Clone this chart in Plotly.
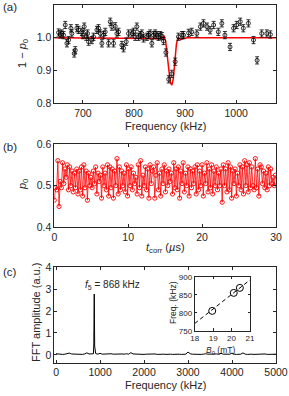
import plotly.graph_objects as go
import numpy as np

# ---------------- Panel (a) data ----------------
fa = [652.4, 655.6, 658.9, 662.1, 665.4, 668.7, 671.9, 676.5, 678.4, 683.0, 685.0, 688.2, 691.5,
      698.0, 700.0, 702.6, 706.5, 709.1, 711.1, 717.6, 720.8, 727.4, 730.6, 733.9, 737.2, 740.4,
      743.7, 750.2, 753.5, 756.7, 760.0, 763.2, 766.5, 769.8, 776.3, 779.6, 784.8, 789.3, 795.9,
      799.1, 802.4, 805.6, 808.9, 812.2, 815.4, 818.7, 825.2, 828.5, 831.7, 835.0, 838.3, 841.5,
      844.8, 848.0, 851.3, 854.6, 857.8, 862.5, 868.0, 874.0, 880.6, 887.0, 894.0, 897.0, 907.0,
      913.0, 923.0, 930.0, 936.0, 943.0, 949.0, 956.0, 965.0, 972.0, 978.0, 988.0, 995.0, 1001.0,
      1008.0, 1014.0, 1024.0, 1034.0, 1041.0, 1050.0, 1060.0, 1067.0]
pa = [1.016, 1.010, 1.013, 1.008, 1.039, 0.983, 0.993, 1.029, 1.013, 0.952, 0.962, 1.029, 1.024,
      1.018, 1.008, 1.034, 1.003, 1.013, 0.988, 0.993, 1.003, 1.024, 1.029, 1.013, 0.983, 1.008,
      1.018, 0.983, 1.049, 1.034, 0.983, 1.035, 1.013, 1.018, 0.978, 0.968, 0.988, 1.013, 1.013,
      1.018, 1.003, 1.034, 1.003, 1.008, 1.013, 0.998, 1.003, 1.008, 1.013, 0.983, 1.008, 1.013,
      1.008, 1.003, 1.008, 1.005, 0.990, 0.955, 0.873, 0.890, 0.927, 1.003, 1.008, 1.008, 1.015,
      1.018, 1.013, 1.034, 1.044, 1.034, 1.023, 1.039, 1.018, 1.044, 1.008, 0.972, 1.029, 1.039,
      1.049, 1.029, 1.044, 0.993, 0.931, 1.013, 1.013, 1.010]
pa_err = 0.011

fit_f = [640, 820, 840, 850, 855, 859, 862, 865, 868, 871, 874, 877, 880, 883, 886, 889, 892,
         896, 905, 1080]
fit_p = [1.000, 0.999, 0.998, 0.996, 1.000, 1.004, 0.990, 0.955, 0.905, 0.865, 0.855, 0.875,
         0.930, 0.980, 1.000, 0.997, 0.994, 0.998, 1.000, 1.000]

# ---------------- Panel (b) data ----------------
p0_milli = [
    465, 495, 490, 560, 450, 510, 495, 555, 505, 540, 520, 550, 490, 545, 500, 535, 485, 530, 495, 540,
    480, 535, 490, 545, 475, 550, 495, 535, 465, 530, 500, 520, 495, 535, 505, 545, 480, 530, 510, 525,
    470, 545, 500, 530, 490, 550, 475, 545, 495, 540, 470, 535, 500, 565, 480, 545, 490, 535, 500, 530,
    485, 550, 475, 540, 500, 545, 490, 530, 505, 520, 480, 550, 495, 560, 475, 525, 500, 545, 490, 540,
    470, 550, 505, 535, 545, 470, 525, 555, 490, 530, 475, 540, 505, 550, 485, 535, 500, 540, 510, 530,
    480, 555, 495, 540, 490, 545, 470, 535, 505, 555, 485, 530, 500, 545, 475, 540, 495, 535, 505, 545,
    480, 550, 490, 535, 500, 550, 475, 530, 505, 555, 485, 540, 495, 550, 480, 535, 500, 545, 490, 530,
    500, 540, 460, 550, 500, 540, 485, 555, 490, 545, 470, 535, 505, 540, 475, 530, 500, 550, 490, 545,
    480, 560, 500, 550, 485, 555, 495, 545, 500, 490, 565, 495, 540, 475, 550, 545, 505, 535, 495, 530,
    490, 545, 500, 540, 505, 520, 500, 525]
t_step_us = 0.16
t_corr = np.arange(len(p0_milli)) * t_step_us
p0 = np.array(p0_milli) / 1000.0

# ---------------- Panel (c) data ----------------
fft_base_step = 50
fft_base = [0.05, 0.03, 0.04, 0.02, 0.03, 0.05, 0.08, 0.04, 0.03, 0.02,
            0.04, 0.03, 0.02, 0.04, 0.09, 0.04, 0.06, 0.05, 0.06, 0.03,
            0.07, 0.03, 0.04, 0.02, 0.03, 0.05, 0.03, 0.04, 0.02, 0.03,
            0.04, 0.03, 0.05, 0.03, 0.10, 0.04, 0.03, 0.02, 0.04, 0.03,
            0.02, 0.03, 0.04, 0.02, 0.03, 0.04, 0.02, 0.03, 0.05, 0.03,
            0.02, 0.04, 0.03, 0.02, 0.03, 0.04, 0.03, 0.02, 0.04, 0.03,
            0.13, 0.05, 0.03, 0.02, 0.04, 0.03, 0.02, 0.03, 0.05, 0.03,
            0.04, 0.02, 0.03, 0.04, 0.03, 0.07, 0.03, 0.02, 0.04, 0.03,
            0.08, 0.03, 0.02, 0.04, 0.03, 0.09, 0.03, 0.02, 0.04, 0.03,
            0.02, 0.03, 0.04, 0.02, 0.03, 0.04, 0.02, 0.03, 0.03, 0.02, 0.03]
peak_f = [858, 863, 868, 873, 878]
peak_a = [0.50, 2.00, 2.78, 1.60, 0.40]
fft_f_all = list(np.arange(len(fft_base)) * fft_base_step) + peak_f
fft_a_all = fft_base + peak_a
order = np.argsort(fft_f_all)
fft_f = np.array(fft_f_all)[order]
fft_a = np.array(fft_a_all)[order]

# inset
B0 = [18.95, 20.12, 20.45]
f_line = [805, 855, 869]
fitB = [18.0, 21.0]
fitF = [770, 891]

# ---------------- figure ----------------
W, H = 289, 396
ax_col = '#262626'
FONT = 'Liberation Sans, Arial'
fig = go.Figure()

fig.add_trace(go.Scatter(x=fit_f, y=fit_p, mode='lines', line=dict(color='#ff0000', width=1.5),
                         xaxis='x', yaxis='y', showlegend=False))
fig.add_trace(go.Scatter(x=fa, y=pa, mode='markers',
                         marker=dict(symbol='circle-open', size=4, color='black', line=dict(width=0.8)),
                         error_y=dict(type='constant', value=pa_err, color='black', thickness=0.8, width=2),
                         xaxis='x', yaxis='y', showlegend=False))

fig.add_trace(go.Scatter(x=t_corr, y=p0, mode='lines+markers',
                         line=dict(color='#ff0000', width=0.8),
                         marker=dict(symbol='circle-open', size=4.2, color='#ff0000', line=dict(width=0.9)),
                         xaxis='x2', yaxis='y2', showlegend=False))

fig.add_trace(go.Scatter(x=fft_f, y=fft_a, mode='lines', line=dict(color='black', width=1),
                         xaxis='x3', yaxis='y3', showlegend=False))

fig.add_trace(go.Scatter(x=fitB, y=fitF, mode='lines', line=dict(color='black', width=1, dash='4px,3px'),
                         xaxis='x4', yaxis='y4', showlegend=False))
fig.add_trace(go.Scatter(x=B0, y=f_line, mode='markers',
                         marker=dict(symbol='circle-open', size=7, color='black', line=dict(width=1)),
                         xaxis='x4', yaxis='y4', showlegend=False))


def ax(**kw):
    d = dict(showline=True, linecolor=ax_col, linewidth=0.8, mirror='ticks', ticks='inside',
             ticklen=3, tickcolor=ax_col, tickwidth=0.8, showgrid=False, zeroline=False,
             tickfont=dict(size=10.5, color=ax_col, family=FONT), automargin=False)
    d.update(kw)
    return d


def px(xp):
    return xp / W


def py(yp):
    return 1 - yp / H


xdom = [px(54.3), px(276)]
small = dict(size=8, color=ax_col, family=FONT)
fig.update_layout(
    width=W, height=H, margin=dict(l=0, r=0, t=0, b=0),
    paper_bgcolor='white', plot_bgcolor='white',
    font=dict(family=FONT, color=ax_col, size=10.5),
    xaxis=ax(domain=xdom, range=[644, 1078], tickvals=[700, 800, 900, 1000], anchor='y'),
    yaxis=ax(domain=[py(103.3), py(5)], range=[0.8, 1.1], tickvals=[0.8, 0.9, 1.0, 1.1],
             tickformat='.1f', anchor='x'),
    xaxis2=ax(domain=xdom, range=[0, 30], tickvals=[0, 10, 20, 30], anchor='y2'),
    yaxis2=ax(domain=[py(227.3), py(144)], range=[0.4, 0.6], tickvals=[0.4, 0.5, 0.6],
              tickformat='.1f', anchor='x2'),
    xaxis3=ax(domain=xdom, range=[-40, 5000], tickvals=[0, 1000, 2000, 3000, 4000, 5000], anchor='y3'),
    yaxis3=ax(domain=[py(362.5), py(267.3)], range=[-0.35, 4], tickvals=[0, 1, 2, 3, 4], anchor='x3'),
    xaxis4=ax(domain=[px(194.7), px(250)], range=[18, 21], tickvals=[18, 19, 20, 21], anchor='y4',
              ticklen=2.5, tickfont=small),
    yaxis4=ax(domain=[py(330.7), py(276.7)], range=[750, 900], tickvals=[750, 800, 850, 900], anchor='x4',
              ticklen=2.5, tickfont=small),
)

ann = []


def txt(t, x, y, size=11, angle=0, xanchor='center'):
    ann.append(dict(text=t, x=px(x), y=py(y), xref='paper', yref='paper', showarrow=False,
                    font=dict(size=size, color=ax_col, family=FONT),
                    textangle=angle, xanchor=xanchor, yanchor='middle'))


txt('(a)', 1, 7, size=11.5, xanchor='left')
txt('(b)', 1, 147.5, size=11.5, xanchor='left')
txt('(c)', 1, 272, size=11.5, xanchor='left')
txt('1 − <i>p</i><sub>0</sub>', 23, 54, angle=-90)
txt('Frequency (kHz)', 165, 126)
txt('<i>p</i><sub>0</sub>', 23, 185, angle=-90)
txt('<i>t</i><sub>corr</sub> (<i>µ</i>s)', 165, 248)
txt('FFT amplitude (a.u.)', 36, 313, angle=-90)
txt('Frequency (kHz)', 165, 385)
txt('<i>f</i><sub>5</sub> = 868 kHz', 112, 285, size=10)
txt('Freq. (kHz)', 173, 303, size=8.5, angle=-90)
txt('<i>B</i><sub>0</sub> (mT)', 220, 350, size=8.5)
fig.update_layout(annotations=ann)

fig.write_html('out.html', config={'displayModeBar': False},
               post_script="document.body.style.margin='0';document.body.style.padding='0';"
                           "document.body.style.overflow='hidden';")
